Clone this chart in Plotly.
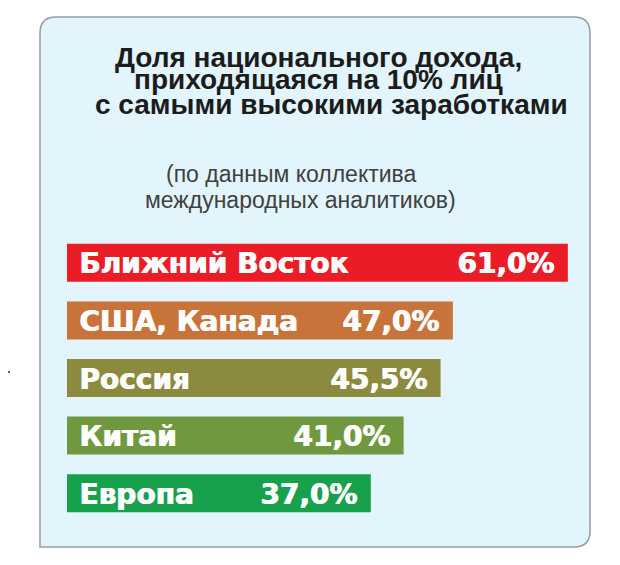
import plotly.graph_objects as go

regions = ["Ближний Восток", "США, Канада", "Россия", "Китай", "Европа"]
shares = [61.0, 47.0, 45.5, 41.0, 37.0]
value_labels = ["61,0%", "47,0%", "45,5%", "41,0%", "37,0%"]
bar_colors = ["#ec1c26", "#c8733a", "#8c8a3e", "#6f983f", "#17a14c"]

title_lines = ["Доля национального дохода,",
               "приходящаяся на 10% лиц",
               "с самыми высокими заработками"]
subtitle_lines = ["(по данным коллектива", "международных аналитиков)"]

W, H = 620, 565
# page has an 8px body margin, so figure pixels are page pixels minus 8
L, T, PW, PH = 59, 226, 523, 288
bold = dict(family="DejaVu Sans", size=28, color="white", weight="bold",
            shadow="1px 0 0 #ffffff")


def px(v):
    return (v - L) / PW


def py(v):
    return (T + PH - v) / PH


fig = go.Figure()
fig.add_bar(
    y=regions, x=shares, orientation="h",
    marker=dict(color=bar_colors, line=dict(width=0)),
    width=0.66, hoverinfo="skip",
)

# names on the left, values on the right of each bar
for name, val, lab in zip(regions, shares, value_labels):
    fig.add_annotation(x=0, y=name, text=name, xref="x", yref="y",
                       xanchor="left", xshift=10, yshift=-1,
                       showarrow=False, font=bold)
    fig.add_annotation(x=val, y=name, text=lab, xref="x", yref="y",
                       xanchor="right", xshift=-12, yshift=-1,
                       showarrow=False, font=bold)

# panel with rounded corners (bottom-left square)
x0, y0, x1, y1, r = 32, 9, 582, 539, 16
path = (f"M {px(x0)},{py(y1)} L {px(x0)},{py(y0 + r)} "
        f"Q {px(x0)},{py(y0)} {px(x0 + r)},{py(y0)} "
        f"L {px(x1 - r)},{py(y0)} Q {px(x1)},{py(y0)} {px(x1)},{py(y0 + r)} "
        f"L {px(x1)},{py(y1 - r)} Q {px(x1)},{py(y1)} {px(x1 - r)},{py(y1)} Z")
fig.add_shape(type="path", path=path, xref="paper", yref="paper",
              fillcolor="#e2f4fc", line=dict(color="#959ea5", width=1.5),
              layer="below")

title_x = [310, 310, 323]
title_y = [49, 72, 96]
for line, tx, ty in zip(title_lines, title_x, title_y):
    fig.add_annotation(x=px(tx), y=py(ty), xref="paper", yref="paper",
                       text=line, showarrow=False, xanchor="center", yanchor="middle",
                       font=dict(family="Liberation Sans", size=28, color="#1c1c1c",
                                 weight="bold"))
sub_x = [283, 292]
sub_y = [166, 192]
for line, sx, sy in zip(subtitle_lines, sub_x, sub_y):
    fig.add_annotation(x=px(sx), y=py(sy), xref="paper", yref="paper",
                       text=line, showarrow=False, xanchor="center", yanchor="middle",
                       font=dict(family="Liberation Sans", size=23, color="#404040"))

# stray dot at the left edge of the scan
fig.add_shape(type="circle", xref="paper", yref="paper",
              x0=px(0), x1=px(2), y0=py(365), y1=py(363),
              fillcolor="#333333", line=dict(width=0))

fig.update_layout(
    width=W, height=H,
    margin=dict(l=L, r=W - L - PW, t=T, b=H - T - PH),
    paper_bgcolor="white", plot_bgcolor="rgba(0,0,0,0)",
    showlegend=False,
    xaxis=dict(range=[0, 63.7], visible=False, fixedrange=True),
    yaxis=dict(autorange="reversed", visible=False, fixedrange=True),
)
fig.write_html("out.html")
